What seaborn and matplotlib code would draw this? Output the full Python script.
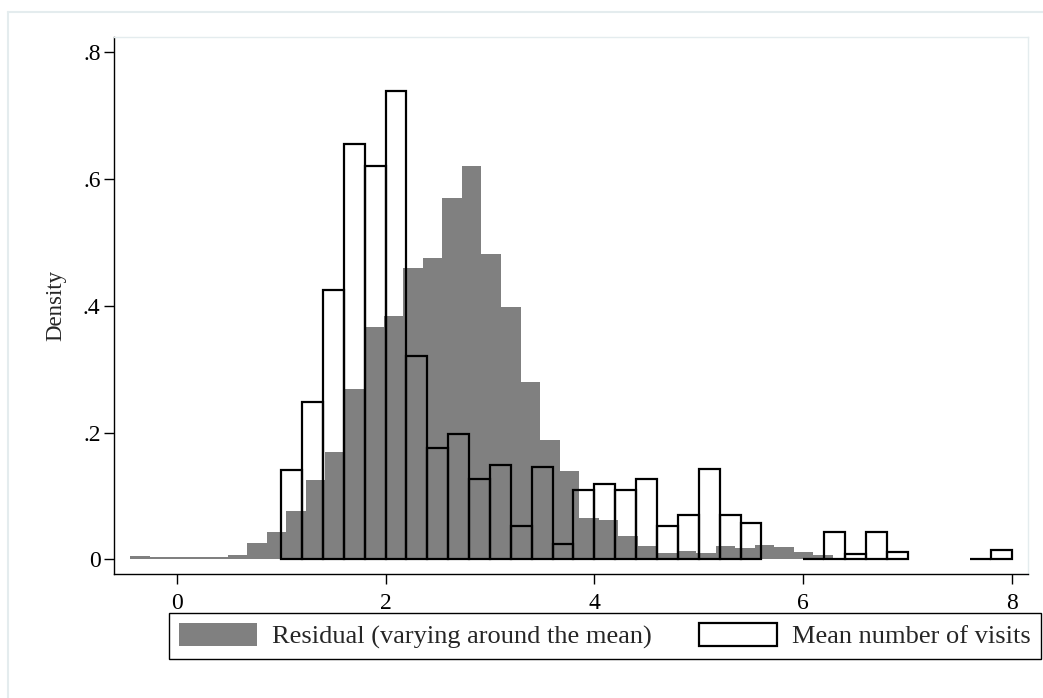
import numpy as np
import pandas as pd
import matplotlib
matplotlib.use("Agg")
import matplotlib.pyplot as plt
import seaborn as sns
from matplotlib.patches import Patch
from matplotlib.lines import Line2D

# ---------------- data ----------------
# Residual histogram: 36 bins, start -0.447, width 0.187
resid_start = -0.447
resid_width = 0.187
resid_density = [0.0057, 0.0036, 0.0036, 0.0036, 0.0036, 0.0068, 0.026, 0.0426,
                 0.0767, 0.125, 0.170, 0.269, 0.366, 0.384, 0.459, 0.4756,
                 0.5706, 0.6206, 0.481, 0.3986, 0.280, 0.189, 0.140, 0.0656,
                 0.062, 0.0368, 0.0215, 0.0099, 0.0131, 0.0099, 0.0215, 0.0183,
                 0.0221, 0.0199, 0.012, 0.0068]

# Mean number of visits: 35 bins from 1 to 8, width 0.2 (None = bar not drawn)
visits_start = 1.0
visits_width = 0.2
visits_density = [0.141, 0.248, 0.425, 0.655, 0.621, 0.739, 0.320, 0.175,
                  0.198, 0.127, 0.149, 0.053, 0.146, 0.0237, 0.110, 0.119,
                  0.110, 0.126, 0.0525, 0.070, 0.1425, 0.070, 0.058,
                  None, None,
                  0.0, 0.0426, 0.0084, 0.0426, 0.012,
                  None, None, None,
                  0.0, 0.0147]

xticks = [0, 2, 4, 6, 8]
yticks = [0, 0.2, 0.4, 0.6, 0.8]
ytick_labels = ["0", ".2", ".4", ".6", ".8"]
legend_labels = ["Residual (varying around the mean)", "Mean number of visits"]
ylabel = "Density"

# ---------------- style ----------------
sns.set_theme(style="white")
plt.rcParams["font.family"] = ["Liberation Serif", "DejaVu Serif"]

fig = plt.figure(figsize=(10.43, 6.98), dpi=100)
L, R = 113.7 / 1043, 1028 / 1043
B, T = 1 - 574.3 / 698, 1 - 36.7 / 698
ax = fig.add_axes([L, B, R - L, T - B])

GRAY = "#808080"

# residual histogram
n_r = len(resid_density)
r_edges = resid_start + resid_width * np.arange(n_r + 1)
r_centers = (r_edges[:-1] + r_edges[1:]) / 2
df_r = pd.DataFrame({"x": r_centers, "w": resid_density})
sns.histplot(data=df_r, x="x", weights="w", bins=[float(e) for e in r_edges],
             stat="count", color=GRAY, alpha=1, linewidth=0, ax=ax)

# visits histogram (outlined), drawn in contiguous runs
n_v = len(visits_density)
v_edges = visits_start + visits_width * np.arange(n_v + 1)
runs = []
cur = []
for i, h in enumerate(visits_density):
    if h is None:
        if cur:
            runs.append(cur)
        cur = []
    else:
        cur.append(i)
if cur:
    runs.append(cur)
for run in runs:
    edges = v_edges[run[0]:run[-1] + 2]
    centers = (edges[:-1] + edges[1:]) / 2
    df_v = pd.DataFrame({"x": centers, "w": [visits_density[i] for i in run]})
    sns.histplot(data=df_v, x="x", weights="w", bins=[float(e) for e in edges],
                 stat="count", fill=False, color="black", linewidth=1.6, ax=ax)

ax.set_xlim(-0.603, 8.153)
ax.set_ylim(-0.0237, 0.8246)
ax.set_xticks(xticks)
ax.set_xticklabels([str(t) for t in xticks])
ax.set_yticks(yticks)
ax.set_yticklabels(ytick_labels)
ax.set_xlabel("")
ax.set_ylabel(ylabel, fontsize=16.5, labelpad=12)
ax.tick_params(axis="both", which="both", direction="out", length=7.5, width=1,
               color="black", labelsize=17, labelcolor="black",
               bottom=True, left=True)
ax.tick_params(axis="y", pad=2)
ax.tick_params(axis="x", pad=6)

for s in ["left", "bottom"]:
    ax.spines[s].set_color("black")
    ax.spines[s].set_linewidth(1.0)
for s in ["top", "right"]:
    ax.spines[s].set_color("#e4ecee")
    ax.spines[s].set_linewidth(1.0)
ax.set_facecolor("white")

# outer graph region border (top and left only visible)
fig.add_artist(Line2D([8 / 1043, 8 / 1043], [0, 1 - 12 / 698],
                      transform=fig.transFigure, color="#e4ecee", lw=1.5))
fig.add_artist(Line2D([8 / 1043, 1], [1 - 12 / 698, 1 - 12 / 698],
                      transform=fig.transFigure, color="#e4ecee", lw=1.5))

handles = [Patch(facecolor=GRAY, edgecolor=GRAY, linewidth=0),
           Patch(facecolor="white", edgecolor="black", linewidth=1.6)]
leg = fig.legend(handles, legend_labels, ncol=2, loc="center",
                 bbox_to_anchor=(169 / 1043, 1 - 657.3 / 698, (1041 - 169) / 1043, 43 / 698),
                 bbox_transform=fig.transFigure, mode="expand",
                 fontsize=19, frameon=True, fancybox=False, edgecolor="black",
                 framealpha=1, borderpad=0.38, handlelength=2.95, handleheight=0.95,
                 handletextpad=0.59, borderaxespad=0)
leg.get_frame().set_linewidth(1.0)

fig.savefig("out.png", dpi=100, facecolor="white")
